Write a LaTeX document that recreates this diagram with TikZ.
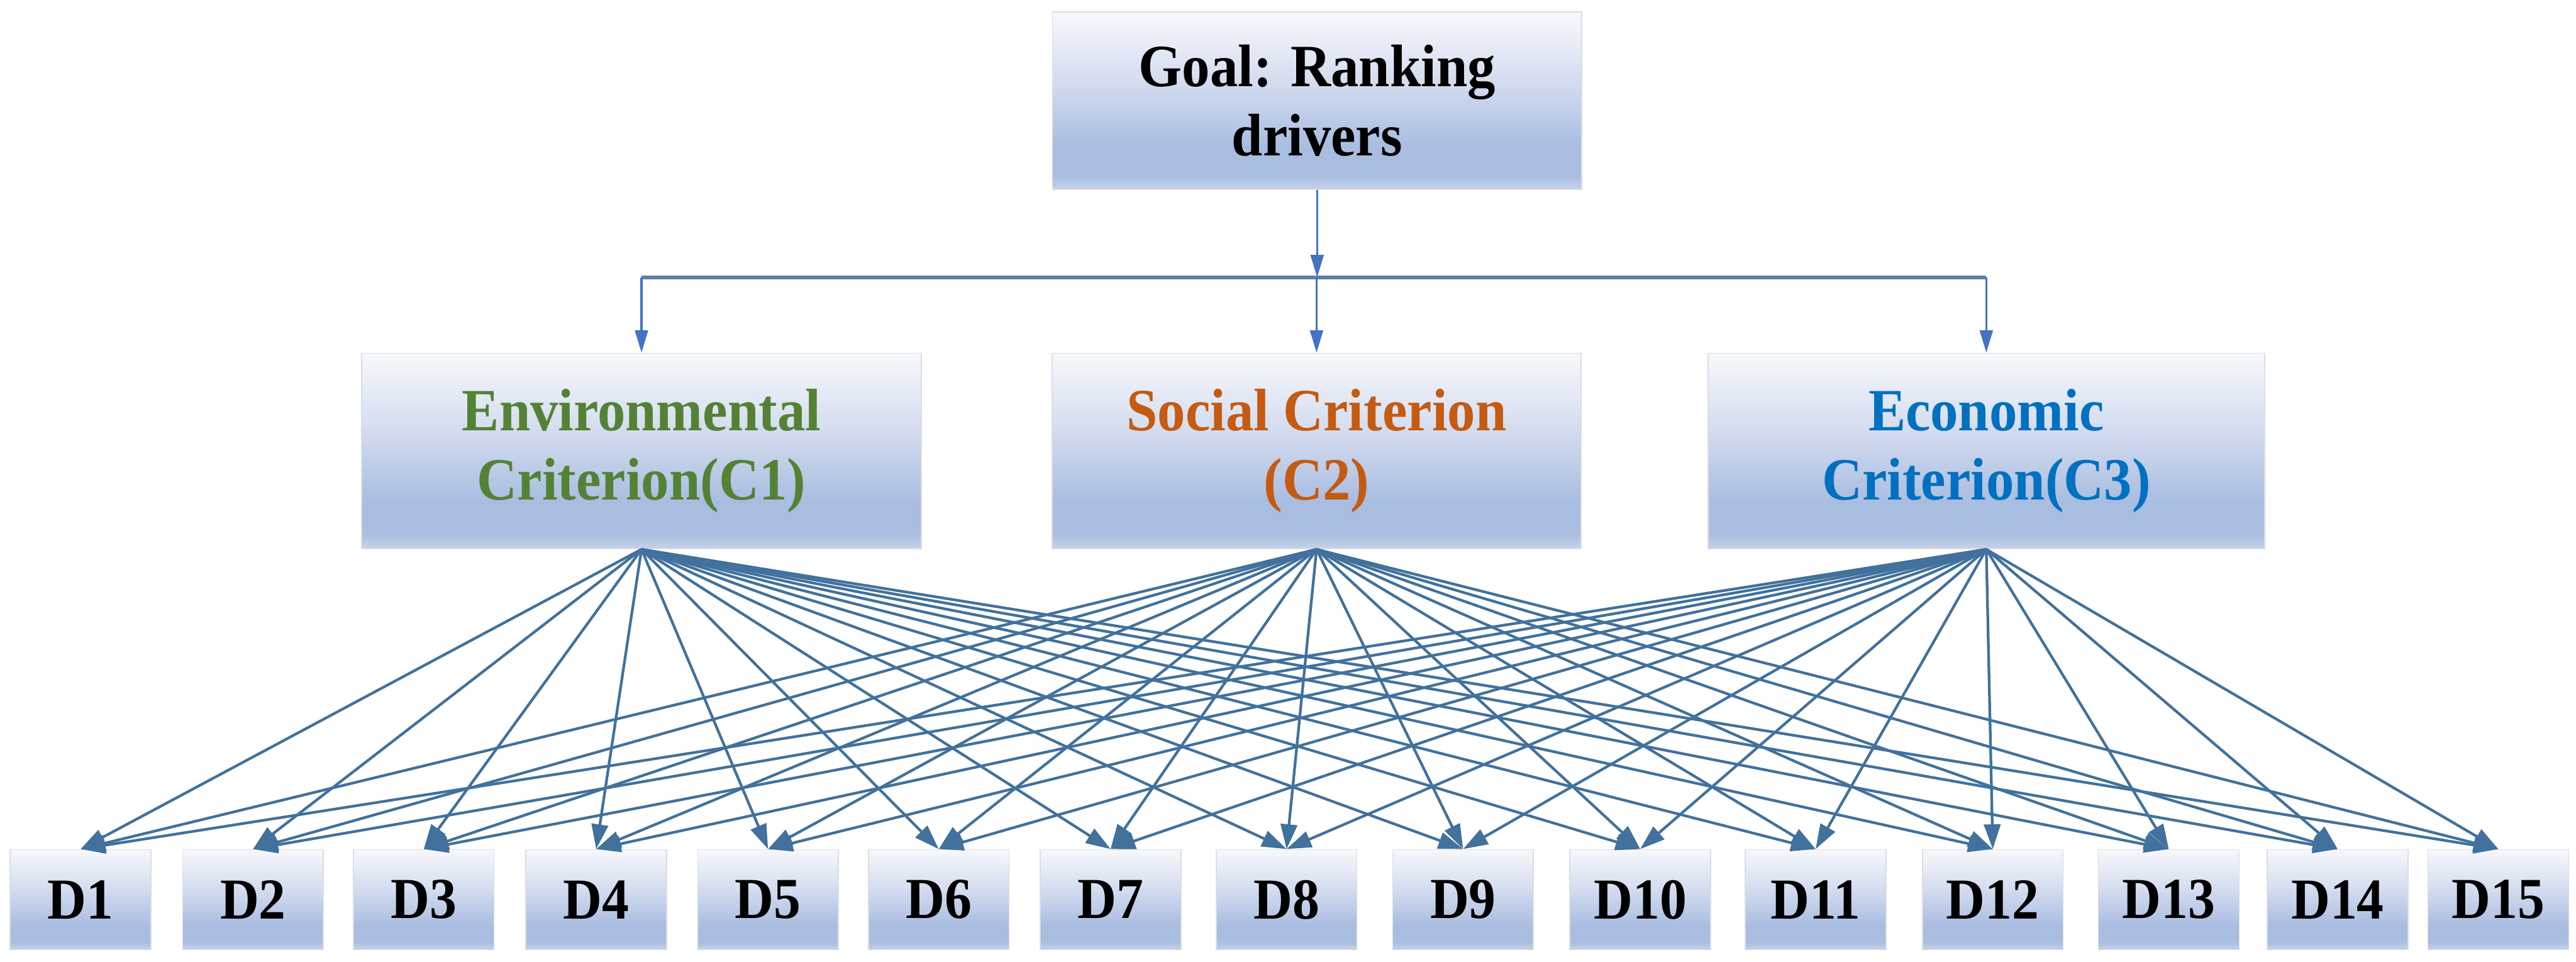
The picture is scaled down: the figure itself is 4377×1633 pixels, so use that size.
\documentclass[tikz,border=0pt]{standalone}
\usepackage{fontspec}
\setmainfont{Liberation Serif}[FakeStretch=0.93]
\usetikzlibrary{arrows.meta}
\definecolor{envc}{HTML}{548235}
\definecolor{socc}{HTML}{C55A11}
\definecolor{ecoc}{HTML}{0070C0}
\definecolor{toparr}{HTML}{4472C4}
\definecolor{botarr}{HTML}{41719C}
\definecolor{barcol}{HTML}{5E7FA6}
\definecolor{boxedge}{HTML}{DADDE3}
\definecolor{shtop}{HTML}{F7F8FC}
\definecolor{shmid}{HTML}{D3DCEF}
\definecolor{shdark}{HTML}{A9BDE1}
\definecolor{shbot}{HTML}{C6D2EA}
\pgfdeclareverticalshading{boxshade}{100bp}{color(0bp)=(shbot); color(25bp)=(shbot); color(29bp)=(shdark); color(37bp)=(shdark); color(55bp)=(shmid); color(75bp)=(shtop); color(100bp)=(shtop)}
\tikzset{
  shbox/.style={draw=boxedge, line width=0.5pt, shading=boxshade, align=center, inner sep=0pt, anchor=center},
  bigtxt/.style={font=\fontsize{29}{33.5}\selectfont\bfseries},
  dtxt/.style={font=\fontsize{28}{32}\selectfont\bfseries},
  dbox/.style={shbox, dtxt, minimum width=2.39cm, minimum height=1.70cm},
  toparrow/.style={draw=toparr, line width=1pt, -{Triangle[length=0.38cm,width=0.22cm]}},
  botarrow/.style={draw=botarr, line width=1.3pt, -{Triangle[length=0.42cm,width=0.28cm]}},
  barline/.style={draw=barcol, line width=1.8pt}
}
\begin{document}
\begin{tikzpicture}[x=0.01cm, y=-0.01cm]
\useasboundingbox (0,0) rectangle (4377,1633);
\node[shbox, bigtxt, minimum width=8.99cm, minimum height=3.01cm] (goal) at (2238,171) {Goal: Ranking\\drivers};
\node[shbox, bigtxt, text=envc, minimum width=9.50cm, minimum height=3.32cm] (c1) at (1090,766) {Environmental\\Criterion(C1)};
\node[shbox, bigtxt, text=socc, minimum width=8.98cm, minimum height=3.32cm] (c2) at (2237,766) {Social Criterion\\(C2)};
\node[shbox, bigtxt, text=ecoc, minimum width=9.45cm, minimum height=3.32cm] (c3) at (3375,766) {Economic\\Criterion(C3)};
\foreach \k/\xx in {1/137,2/430,3/720,4/1013,5/1305,6/1595,7/1887,8/2186,9/2486,10/2787,11/3085,12/3386,13/3685,14/3972,15/4245}
  \node[dbox] (d\k) at (\xx,1528) {D\k};
\coordinate (bar) at (2237,471);
\draw[barline] (c1.north |- bar) -- (c3.north |- bar);
\draw[toparrow] (goal.south) -- (goal.south |- bar);
\draw[toparrow] (c1.north |- bar) -- (c1.north);
\draw[toparrow] (c2.north |- bar) -- (c2.north);
\draw[toparrow] (c3.north |- bar) -- (c3.north);
\foreach \c in {c1,c2,c3}
  \foreach \k in {1,...,15}
    \draw[botarrow] (\c.south) -- (d\k.north);
\end{tikzpicture}
\end{document}
